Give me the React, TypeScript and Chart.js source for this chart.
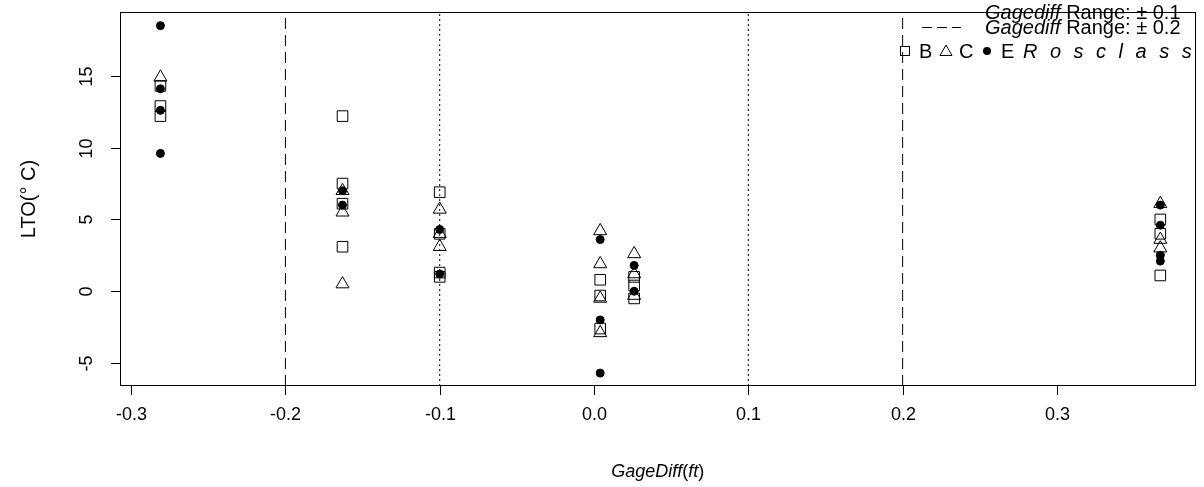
import React, { useEffect, useRef } from "react";
import { Chart, registerables } from "chart.js";
Chart.register(...registerables);

const W = 1204;
const H = 487;
const FONT = '"Liberation Sans", Arial, sans-serif';

// ---- data ----
const gageDiff = [-0.281, -0.163, -0.1, 0.004, 0.026, 0.367];
const ltoB = [[14.3, 12.9, 12.2], [12.2, 7.5, 6.1, 3.1], [6.9, 4.0, 1.3, 1.0], [0.8, -0.3, -2.6], [1.0, 0.4, -0.5], [5.0, 4.0, 1.1]];
const ltoC = [[14.9], [7.0, 5.5, 0.5], [5.7, 4.0, 3.1], [4.2, 1.9, -0.5, -2.9], [2.6, 1.2, -0.3], [6.1, 3.6, 3.0]];
const ltoE = [[18.5, 14.1, 12.6, 9.6], [7.0, 6.0], [4.3, 1.2], [3.6, -2.0, -5.7], [1.8, 0.0], [6.0, 4.6, 2.5, 2.1]];
const xTicks = [-0.3, -0.2, -0.1, 0.0, 0.1, 0.2, 0.3];
const yTicks = [-5, 0, 5, 10, 15];
const dottedRefs = [-0.1, 0.1];
const dashedRefs = [-0.2, 0.2];
const xRange = [-0.3072, 0.3898];
const yRange = [-6.6, 19.45];

const toPoints = (lto: number[][]) => lto.flatMap((ys, i) => ys.map((y) => ({ x: gageDiff[i], y })));

type Run = { text: string; font: string; spacing?: number };

function runWidth(ctx: CanvasRenderingContext2D, r: Run) {
  ctx.font = r.font;
  if (!r.spacing) return ctx.measureText(r.text).width;
  let w = 0;
  for (let i = 0; i < r.text.length; i++) {
    w += ctx.measureText(r.text[i]).width;
    if (i < r.text.length - 1) w += r.spacing;
  }
  return w;
}

function drawRuns(ctx: CanvasRenderingContext2D, x: number, y: number, runs: Run[], align: "left" | "center" = "left") {
  const total = runs.reduce((s, r) => s + runWidth(ctx, r), 0);
  let cx = align === "center" ? x - total / 2 : x;
  ctx.textAlign = "left";
  ctx.textBaseline = "alphabetic";
  for (const r of runs) {
    ctx.font = r.font;
    if (!r.spacing) {
      ctx.fillText(r.text, cx, y);
      cx += ctx.measureText(r.text).width;
    } else {
      for (let i = 0; i < r.text.length; i++) {
        ctx.fillText(r.text[i], cx, y);
        cx += ctx.measureText(r.text[i]).width + r.spacing;
      }
      cx -= r.spacing;
    }
  }
}

const rAxesPlugin = {
  id: "rAxes",
  afterDraw(chart: any) {
    const ctx: CanvasRenderingContext2D = chart.ctx;
    const { left, right, top, bottom } = chart.chartArea;
    const xs = chart.scales.x;
    const ys = chart.scales.y;
    ctx.save();
    ctx.strokeStyle = "#000";
    ctx.fillStyle = "#000";
    ctx.lineWidth = 1;
    ctx.setLineDash([]);
    // box
    ctx.strokeRect(Math.round(left) + 0.5, Math.round(top) + 0.5, Math.round(right - left) - 1, Math.round(bottom - top) - 1);
    const fTick = `18px ${FONT}`;
    const fTitle = `18px ${FONT}`;
    const iTitle = `italic 18px ${FONT}`;
    // x ticks
    ctx.font = fTick;
    ctx.textAlign = "center";
    ctx.textBaseline = "alphabetic";
    for (const v of xTicks) {
      const px = Math.round(xs.getPixelForValue(v)) + 0.5;
      ctx.beginPath();
      ctx.moveTo(px, bottom);
      ctx.lineTo(px, bottom + 9);
      ctx.stroke();
      ctx.fillText(v.toFixed(1), px, 420);
    }
    // y ticks
    for (const v of yTicks) {
      const py = Math.round(ys.getPixelForValue(v)) + 0.5;
      ctx.beginPath();
      ctx.moveTo(left - 9, py);
      ctx.lineTo(left, py);
      ctx.stroke();
      ctx.save();
      ctx.translate(92, py);
      ctx.rotate(-Math.PI / 2);
      ctx.textAlign = "center";
      ctx.font = fTick;
      ctx.fillText(String(v), 0, 0);
      ctx.restore();
    }
    // y title
    ctx.save();
    ctx.translate(35, (top + bottom) / 2);
    ctx.rotate(-Math.PI / 2);
    ctx.textAlign = "center";
    ctx.font = `20px ${FONT}`;
    ctx.fillText("LTO(° C)", 0, 0);
    ctx.restore();
    // x title
    drawRuns(ctx, (left + right) / 2, 477, [
      { text: "GageDiff", font: iTitle },
      { text: "(", font: fTitle },
      { text: "ft", font: iTitle },
      { text: ")", font: fTitle },
    ], "center");

    // legend
    const fL = `20px ${FONT}`;
    const iL = `italic 20px ${FONT}`;
    ctx.setLineDash([2, 3]);
    ctx.beginPath();
    ctx.moveTo(922, 12.5);
    ctx.lineTo(961, 12.5);
    ctx.stroke();
    ctx.setLineDash([10, 5]);
    ctx.beginPath();
    ctx.moveTo(922, 27.5);
    ctx.lineTo(961, 27.5);
    ctx.stroke();
    ctx.setLineDash([]);
    drawRuns(ctx, 985, 19, [{ text: "Gagediff", font: iL }, { text: " Range: ± 0.1", font: fL }]);
    drawRuns(ctx, 985, 34, [{ text: "Gagediff", font: iL }, { text: " Range: ± 0.2", font: fL }]);
    // row 3 markers
    const my = 51;
    ctx.strokeRect(900.5, my - 4.5, 9, 9);
    ctx.beginPath();
    ctx.moveTo(946, my - 6);
    ctx.lineTo(952, my + 4.5);
    ctx.lineTo(940, my + 4.5);
    ctx.closePath();
    ctx.stroke();
    ctx.beginPath();
    ctx.arc(987, my, 4, 0, Math.PI * 2);
    ctx.fill();
    drawRuns(ctx, 919, 58, [{ text: "B", font: fL }]);
    drawRuns(ctx, 959, 58, [{ text: "C", font: fL }]);
    drawRuns(ctx, 1001, 58, [{ text: "E", font: fL }]);
    drawRuns(ctx, 1023, 58, [{ text: "Rosclass", font: iL, spacing: 12.5 }]);
    ctx.restore();
  },
};

export default function App() {
  const ref = useRef<HTMLCanvasElement | null>(null);
  useEffect(() => {
    if (!ref.current) return;
    const refLine = (v: number, dash: number[]) => ({
      type: "line" as const,
      data: [{ x: v, y: yRange[0] }, { x: v, y: yRange[1] }],
      borderColor: "#000",
      borderWidth: 1,
      borderDash: dash,
      pointRadius: 0,
      fill: false,
    });
    const chart = new Chart(ref.current, {
      type: "scatter",
      data: {
        datasets: [
          ...dashedRefs.map((v) => refLine(v, [11, 6])),
          ...dottedRefs.map((v) => refLine(v, [2, 3])),
          {
            label: "B",
            data: toPoints(ltoB),
            pointStyle: "rect",
            pointRadius: 7.5,
            backgroundColor: "rgba(0,0,0,0)",
            borderColor: "#000",
            borderWidth: 1,
          },
          {
            label: "C",
            data: toPoints(ltoC),
            pointStyle: "triangle",
            pointRadius: 7.5,
            backgroundColor: "rgba(0,0,0,0)",
            borderColor: "#000",
            borderWidth: 1,
          },
          {
            label: "E",
            data: toPoints(ltoE),
            pointStyle: "circle",
            pointRadius: 4,
            backgroundColor: "#000",
            borderColor: "#000",
            borderWidth: 1,
          },
        ] as any,
      },
      options: {
        responsive: false,
        animation: false,
        events: [],
        layout: { padding: { left: 120, right: 7, top: 12, bottom: 101 } },
        plugins: { legend: { display: false }, tooltip: { enabled: false } },
        scales: {
          x: { type: "linear", min: xRange[0], max: xRange[1], display: false },
          y: { type: "linear", min: yRange[0], max: yRange[1], display: false },
        },
      },
      plugins: [rAxesPlugin],
    });
    return () => chart.destroy();
  }, []);
  return (
    <div style={{ position: "absolute", left: 0, top: 0, width: W, height: H, background: "#fff" }}>
      <canvas ref={ref} width={W} height={H} style={{ display: "block", width: W, height: H }} />
    </div>
  );
}
